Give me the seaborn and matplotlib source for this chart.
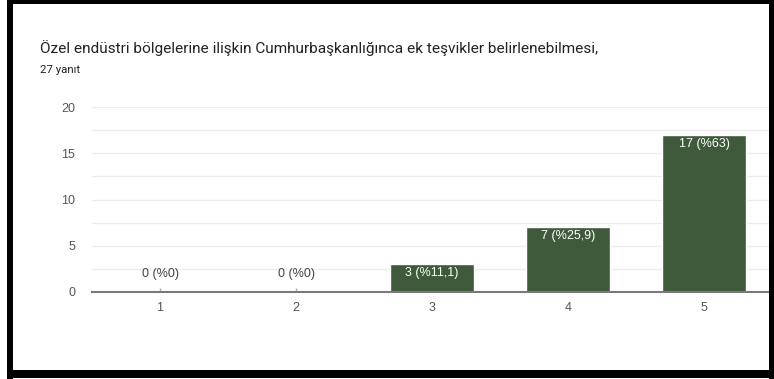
import matplotlib
matplotlib.use("Agg")
import matplotlib.pyplot as plt
import numpy as np
import pandas as pd
import seaborn as sns
from matplotlib.patches import Rectangle

title = "Özel endüstri bölgelerine ilişkin Cumhurbaşkanlığınca ek teşvikler belirlenebilmesi,"
subtitle = "27 yanıt"
categories = ["1", "2", "3", "4", "5"]
counts = [0, 0, 3, 7, 17]
bar_labels = ["0 (%0)", "0 (%0)", "3 (%11,1)", "7 (%25,9)", "17 (%63)"]
y_ticks = [0, 5, 10, 15, 20]

bar_color = "#3f5a3a"
W, H = 774, 379

sns.set_style("white")
plt.rcParams["font.family"] = ["Liberation Sans", "DejaVu Sans"]

fig = plt.figure(figsize=(W / 100, H / 100), dpi=100)
fig.patch.set_facecolor("white")


def band(x0, y0, x1, y1):
    # pixel box measured from the top-left corner
    fig.patches.append(Rectangle((x0 / W, 1 - y1 / H), (x1 - x0) / W, (y1 - y0) / H,
                                 transform=fig.transFigure, facecolor="black",
                                 edgecolor="none", zorder=10))


# scanned-looking black frame
band(7, 0, W, 4)
band(7, 0, 13, H)
band(769, 0, W, H)
band(7, 370, W, 378)

ax = fig.add_axes([92 / W, 1 - 292 / H, (772 - 92) / W, (292 - 107) / H])
ax.set_facecolor("none")

df = pd.DataFrame({"cat": categories, "n": counts})
sns.barplot(data=df, x="cat", y="n", color=bar_color, width=0.62, ax=ax,
            saturation=1, zorder=3)

ax.set_xlim(-0.5, 4.5)
ax.set_ylim(0, 20)
ax.set_yticks(y_ticks)
ax.set_yticks(np.arange(2.5, 20, 5), minor=True)
ax.grid(axis="y", which="both", color="#ececec", linewidth=1, zorder=0)
ax.tick_params(axis="y", which="both", length=0, labelsize=9, labelcolor="#555555", pad=12)
ax.tick_params(axis="x", length=0, labelsize=9, labelcolor="#555555", pad=7)
ax.set_xlabel("")
ax.set_ylabel("")
for s in ["top", "right", "left"]:
    ax.spines[s].set_visible(False)
ax.spines["bottom"].set_color("#7a7a7a")
ax.spines["bottom"].set_linewidth(1.5)
ax.spines["bottom"].set_zorder(4)

for i, (n, lab) in enumerate(zip(counts, bar_labels)):
    if n == 0:
        ax.vlines(i, 0, 0.45, color="#b0b0b0", linewidth=1, zorder=4)
        ax.text(i, 1.9, lab, ha="center", va="center", fontsize=9, color="#444444")
    else:
        ax.text(i, n - 0.95, lab, ha="center", va="center", fontsize=9, color="white",
                zorder=5)

fig.text(40 / W, 1 - 48 / H, title, fontsize=11.1, color="#222222", va="center",
         family=["Roboto", "DejaVu Sans"])
fig.text(40 / W, 1 - 70 / H, subtitle, fontsize=8.2, color="#222222", va="center",
         family=["Roboto", "DejaVu Sans"])

fig.savefig("out.png", dpi=100)
